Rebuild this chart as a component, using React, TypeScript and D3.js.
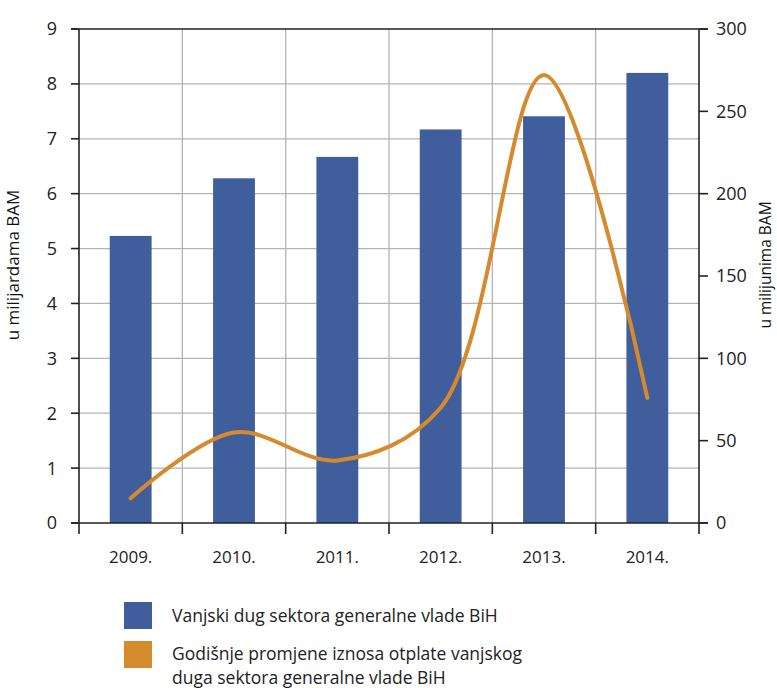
import React from "react";
import * as d3 from "d3";

const categories = ["2009.", "2010.", "2011.", "2012.", "2013.", "2014."];
const debtValues = [5.23, 6.28, 6.67, 7.17, 7.41, 8.2];
const repaymentValues = [15, 55, 38, 70, 272, 76];
const leftTicks = [0, 1, 2, 3, 4, 5, 6, 7, 8, 9];
const rightTicks = [0, 50, 100, 150, 200, 250, 300];
const legendLabels = [
  ["Vanjski dug sektora generalne vlade BiH"],
  ["Godišnje promjene iznosa otplate vanjskog", "duga sektora generalne vlade BiH"],
];

const W = 777;
const H = 688;
const left = 79;
const right = 699;
const top = 29;
const bottom = 523;
const BLUE = "#415E9C";
const ORANGE = "#D68A2E";
const GRID = "#b4b4b4";
const FONT = "'Open Sans', 'Noto Sans', sans-serif";

export default function App() {
  const x = d3.scaleBand().domain(categories).range([left, right]).paddingInner(0).paddingOuter(0);
  const yL = d3.scaleLinear().domain([0, 9]).range([bottom, top]);
  const yR = d3.scaleLinear().domain([0, 300]).range([bottom, top]);
  const barW = x.bandwidth() * 0.405;
  const line = d3
    .line<number>()
    .x((_, i) => (x(categories[i]) as number) + x.bandwidth() / 2)
    .y((d) => yR(d))
    .curve(d3.curveCatmullRom.alpha(0.5));
  const boundaries = categories.map((c) => x(c) as number).concat([right]);

  return (
    <svg width={W} height={H} style={{ position: "absolute", left: 0, top: 0 }} fontFamily={FONT}>
      <rect x={0} y={0} width={W} height={H} fill="#fff" />
      {/* horizontal grid */}
      {leftTicks.slice(1, -1).map((t) => (
        <line key={"h" + t} x1={left} x2={right} y1={yL(t)} y2={yL(t)} stroke={GRID} strokeWidth={1.3} />
      ))}
      {/* vertical grid */}
      {boundaries.slice(1, -1).map((b, i) => (
        <line key={"v" + i} x1={b} x2={b} y1={top} y2={bottom} stroke={GRID} strokeWidth={1.3} />
      ))}
      {/* bars */}
      {debtValues.map((v, i) => (
        <rect
          key={"b" + i}
          x={(x(categories[i]) as number) + x.bandwidth() / 2 - barW / 2}
          y={yL(v)}
          width={barW}
          height={bottom - yL(v)}
          fill={BLUE}
        />
      ))}
      {/* line */}
      <path d={line(repaymentValues) || ""} fill="none" stroke={ORANGE} strokeWidth={4} strokeLinecap="round" />
      {/* axes */}
      <line x1={left} x2={left} y1={top} y2={bottom} stroke="#222" strokeWidth={1.6} />
      <line x1={right} x2={right} y1={top} y2={bottom} stroke="#222" strokeWidth={1.6} />
      <line x1={left - 8} x2={right + 9} y1={top} y2={top} stroke="#222" strokeWidth={1.6} />
      <line x1={left - 8} x2={right + 9} y1={bottom} y2={bottom} stroke="#222" strokeWidth={1.6} />
      {leftTicks.map((t) => (
        <g key={"lt" + t}>
          <line x1={left - 8} x2={left} y1={yL(t)} y2={yL(t)} stroke="#222" strokeWidth={1.6} />
          <text x={57} y={yL(t)} dy="0.36em" textAnchor="end" fontSize={18} fill="#222">
            {t}
          </text>
        </g>
      ))}
      {rightTicks.map((t) => (
        <g key={"rt" + t}>
          <line x1={right} x2={right + 9} y1={yR(t)} y2={yR(t)} stroke="#222" strokeWidth={1.6} />
          <text x={716} y={yR(t)} dy="0.36em" textAnchor="start" fontSize={18} fill="#222">
            {t}
          </text>
        </g>
      ))}
      {boundaries.map((b, i) => (
        <line key={"bt" + i} x1={b} x2={b} y1={bottom} y2={bottom + 11} stroke="#222" strokeWidth={1.6} />
      ))}
      {categories.map((c) => (
        <text
          key={"c" + c}
          x={(x(c) as number) + x.bandwidth() / 2}
          y={563}
          textAnchor="middle"
          fontSize={17}
          fill="#222"
        >
          {c}
        </text>
      ))}
      {/* axis titles */}
      <text transform="translate(19,265) rotate(-90)" textAnchor="middle" fontSize={17} fill="#111">
        u milijardama BAM
      </text>
      <text transform="translate(771,265) rotate(-90)" textAnchor="middle" fontSize={15.5} fill="#111">
        u milijunima BAM
      </text>
      {/* legend */}
      <rect x={124} y={602} width={28} height={27} fill={BLUE} />
      <rect x={124} y={641} width={28} height={27} fill={ORANGE} />
      {legendLabels.map((lines, i) =>
        lines.map((l, j) => (
          <text key={"lg" + i + j} x={172} y={622 + i * 38 + j * 24} fontSize={17.5} fill="#222">
            {l}
          </text>
        ))
      )}
    </svg>
  );
}
